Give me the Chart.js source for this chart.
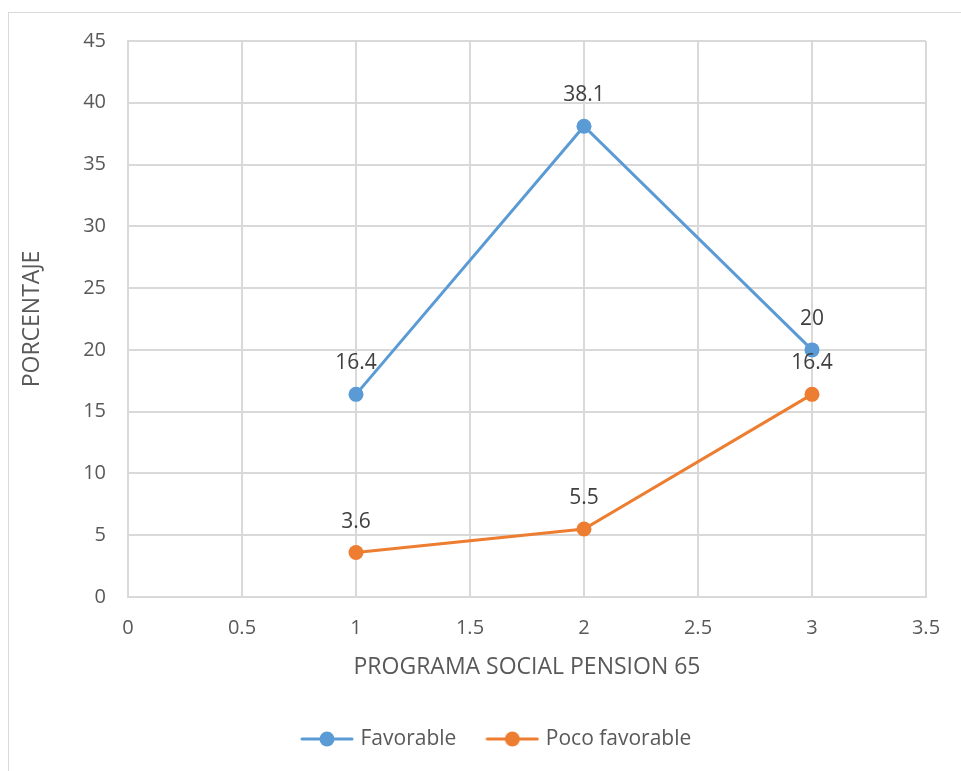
<!DOCTYPE html>
<html>
<head>
<meta charset="utf-8">
<title>Programa social Pensión 65</title>
<script src="https://cdn.jsdelivr.net/npm/chart.js@4/dist/chart.umd.min.js"></script>
<style>
  html, body { margin: 0; padding: 0; background: #ffffff; }
  canvas { display: block; }
</style>
</head>
<body>
<canvas id="chart" width="961" height="771"></canvas>
<script>
// Values per programme level
const programa = [1, 2, 3];
const favorable = [16.4, 38.1, 20];
const pocoFavorable = [3.6, 5.5, 16.4];
const seriesNames = ['Favorable', 'Poco favorable'];
const xTitle = 'PROGRAMA SOCIAL PENSION 65';
const yTitle = 'PORCENTAJE';

const BLUE = '#5B9BD5';
const ORANGE = '#ED7D31';
const GRID = '#d9d9d9';
const FONT = "'Open Sans', 'DejaVu Sans', sans-serif";
const TICK_SIZE = 20;
const LABEL_SIZE = 21;
const TITLE_SIZE = 23;

// Legend marker: short line with a dot in the middle
function legendMarker(color) {
  const c = document.createElement('canvas');
  c.width = 54; c.height = 18;
  const g = c.getContext('2d');
  g.strokeStyle = color; g.lineWidth = 3; g.lineCap = 'round';
  g.beginPath(); g.moveTo(2, 9); g.lineTo(52, 9); g.stroke();
  g.fillStyle = color;
  g.beginPath(); g.arc(27, 9, 7.5, 0, Math.PI * 2); g.fill();
  return c;
}

const toPoints = ys => programa.map((x, i) => ({ x: x, y: ys[i] }));

// Light frame around the whole chart
const framePlugin = {
  id: 'frame',
  beforeDraw(chart) {
    const ctx = chart.ctx;
    ctx.save();
    ctx.fillStyle = '#ffffff';
    ctx.fillRect(0, 0, chart.width, chart.height);
    ctx.strokeStyle = GRID;
    ctx.lineWidth = 1;
    ctx.strokeRect(8.5, 12.5, chart.width + 20, chart.height + 20);
    ctx.restore();
  }
};

// Place the legend row where it belongs below the axis title
const legendPlacer = {
  id: 'legendPlacer',
  afterLayout(chart) {
    const L = chart.legend;
    if (!L || !L.lineWidths) return;
    const pad = L.options.labels.padding;
    const curStart = (L.left + pad + L.right - L.lineWidths[0]) / 2;
    const dx = 304 - curStart;
    L.left += dx; L.right += dx;
    const h = L.height;
    L.top = 739 - pad - LABEL_SIZE / 2;
    L.bottom = L.top + h;
  }
};

// Value labels above each point
const valueLabels = {
  id: 'valueLabels',
  afterDatasetsDraw(chart) {
    const ctx = chart.ctx;
    ctx.save();
    ctx.font = LABEL_SIZE + 'px ' + FONT;
    ctx.fillStyle = '#404040';
    ctx.textAlign = 'center';
    ctx.textBaseline = 'middle';
    chart.data.datasets.forEach((ds, di) => {
      const meta = chart.getDatasetMeta(di);
      meta.data.forEach((pt, i) => {
        ctx.fillText(String(ds.data[i].y), pt.x, pt.y - 31);
      });
    });
    ctx.restore();
  }
};

Chart.defaults.font.family = FONT;
Chart.defaults.font.size = TICK_SIZE;
Chart.defaults.color = '#595959';

function lineSeries(label, values, color) {
  return {
    label: label,
    data: toPoints(values),
    showLine: true,
    borderColor: color,
    backgroundColor: color,
    borderWidth: 3,
    pointRadius: 7.5,
    pointHoverRadius: 7.5,
    pointBackgroundColor: color,
    pointBorderColor: color,
    pointBorderWidth: 0,
    pointStyle: 'circle',
    tension: 0
  };
}

new Chart(document.getElementById('chart'), {
  type: 'scatter',
  data: {
    datasets: [
      lineSeries(seriesNames[0], favorable, BLUE),
      lineSeries(seriesNames[1], pocoFavorable, ORANGE)
    ]
  },
  options: {
    responsive: false,
    animation: false,
    devicePixelRatio: 1,
    layout: { padding: { left: 8, top: 41, right: 35, bottom: 0 } },
    plugins: {
      tooltip: { enabled: false },
      legend: {
        position: 'bottom',
        labels: {
          usePointStyle: true,
          pointStyleWidth: 46,
          padding: 33,
          color: '#595959',
          font: { size: LABEL_SIZE },
          generateLabels(chart) {
            return chart.data.datasets.map((ds, i) => ({
              text: ds.label,
              pointStyle: legendMarker(ds.borderColor),
              fillStyle: ds.borderColor,
              strokeStyle: ds.borderColor,
              lineWidth: 0,
              hidden: false,
              datasetIndex: i,
              fontColor: '#595959'
            }));
          }
        }
      }
    },
    scales: {
      x: {
        type: 'linear',
        min: 0,
        max: 3.5,
        ticks: {
          stepSize: 0.5,
          padding: 19,
          color: '#595959',
          callback: v => String(Number(v))
        },
        grid: { color: GRID, lineWidth: 2, drawTicks: false },
        border: { color: GRID, width: 2 },
        title: {
          display: true,
          text: xTitle,
          color: '#595959',
          font: { size: TITLE_SIZE },
          padding: { top: 0, bottom: 26 }
        },
        afterFit(s) { s.height = 110; }
      },
      y: {
        min: 0,
        max: 45,
        ticks: { stepSize: 5, padding: 22, color: '#595959' },
        grid: { color: GRID, lineWidth: 2, drawTicks: false },
        border: { color: GRID, width: 2 },
        title: {
          display: true,
          text: yTitle,
          color: '#595959',
          font: { size: TITLE_SIZE },
          padding: { top: 11, bottom: 0 }
        },
        afterFit(s) { s.width = 120; }
      }
    }
  },
  plugins: [framePlugin, legendPlacer, valueLabels]
});
</script>
</body>
</html>
